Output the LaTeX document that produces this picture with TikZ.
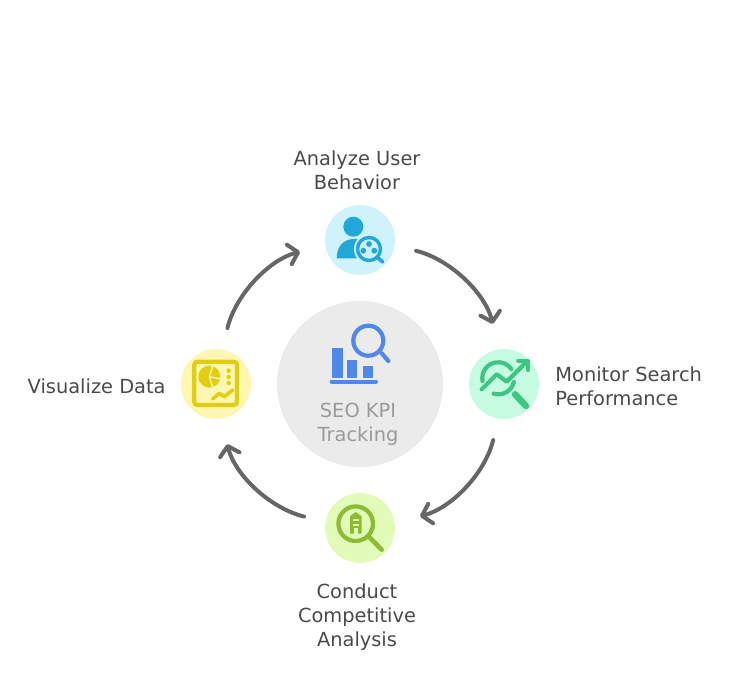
\documentclass[tikz,border=0pt]{standalone}
\usepackage{fontspec}
\setmainfont{DejaVu Sans}
\usetikzlibrary{positioning,arrows.meta}
\definecolor{arrowgray}{HTML}{666666}
\definecolor{labelgray}{HTML}{4A4A4A}
\definecolor{hubgray}{HTML}{EBEBEB}
\definecolor{hubtext}{HTML}{9A9A9A}
\definecolor{hubicon}{HTML}{4F88E8}
\definecolor{userbg}{HTML}{D0F2FD}
\definecolor{usericon}{HTML}{1FA8D8}
\definecolor{searchbg}{HTML}{C6FCE2}
\definecolor{searchicon}{HTML}{3CC583}
\definecolor{rivalbg}{HTML}{E2FBB8}
\definecolor{rivalicon}{HTML}{8DBB32}
\definecolor{databg}{HTML}{FFF6B3}
\definecolor{dataicon}{HTML}{E1CE10}
\tikzset{
  stepdot/.style={circle,minimum size=70pt,inner sep=0pt},
  steplabel/.style={text=labelgray,align=center,inner sep=0pt,font=\fontsize{19.4}{24}\selectfont},
  cyclearrow/.style={draw=arrowgray,line width=4pt,line cap=round,shorten <=22pt,shorten >=26pt,
    -{Straight Barb[length=9pt,width=20pt,round]}},
}
\begin{document}
\begin{tikzpicture}[x=1pt,y=1pt]
  \useasboundingbox (0,0) rectangle (744,696);
  % circles
  \node[circle,minimum size=166pt,inner sep=0pt,fill=hubgray] (hub) at (360,312) {};
  \node[stepdot,fill=userbg] (analyze) at (360,456) {};
  \node[stepdot,fill=searchbg] (monitor) at (504,312) {};
  \node[stepdot,fill=rivalbg] (conduct) at (360,168) {};
  \node[stepdot,fill=databg] (visualize) at (216,312) {};
  % labels
  \node[steplabel,above=15pt of analyze,xshift=-3pt] (analyzetext) {Analyze User\\Behavior};
  \node[steplabel,right=16pt of monitor,align=left,yshift=-2pt] (monitortext) {Monitor Search\\Performance};
  \node[steplabel,below=20pt of conduct,xshift=-3pt] (conducttext) {Conduct\\Competitive\\Analysis};
  \node[steplabel,left=15pt of visualize,yshift=-2pt] (visualizetext) {Visualize Data};
  \node[steplabel,text=hubtext] (hubtext) at (358,272) {SEO KPI\\Tracking};
  % arrows
  \draw[cyclearrow] (analyze.-9) to[out=-14,in=104] (monitor.98);
  \draw[cyclearrow] (monitor.-99) to[out=-104,in=14] (conduct.9);
  \draw[cyclearrow] (conduct.170) to[out=166,in=-76] (visualize.-82);
  \draw[cyclearrow] (visualize.80) to[out=76,in=194] (analyze.189);
  % hub icon
  \begin{scope}[shift={(hub.center)}]
    \draw[hubicon,line width=4.2pt] (8.3,43.3) circle (15);
    \draw[hubicon,line width=4.2pt,line cap=round] (21.7,30.7) -- (28.3,23);
    \fill[hubicon] (-27.7,36.3) rectangle (-17.3,6.3);
    \fill[hubicon] (-12.7,24) rectangle (-2.7,6.3);
    \fill[hubicon] (2.7,18.3) rectangle (12.7,6.3);
    \draw[hubicon,line width=4pt,line cap=round] (-28.3,2.3) -- (16,2.3);
  \end{scope}
  % user icon
  \begin{scope}[shift={(analyze.center)}]
    \fill[usericon] (-6.7,13.3) circle (10);
    \fill[usericon] (-23.3,-18.3) .. controls (-23.3,-6) and (-16,1) .. (-6,1) -- (6,1) -- (6,-18.3) -- cycle;
    \fill[userbg] (9,-9) circle (15);
    \draw[usericon,line width=3.4pt] (9,-9) circle (11.5);
    \foreach \dotx/\doty in {9/-4,3.3/-10.7,14.3/-10.7}
      \fill[usericon] (\dotx,\doty) circle (2.9);
    \draw[usericon,line width=3.6pt,line cap=round] (17.3,-17.3) -- (22.7,-22);
  \end{scope}
  % search icon
  \begin{scope}[shift={(monitor.center)},searchicon]
    \draw[line width=4.2pt,line cap=round] (-21.5,3) arc[start angle=190,end angle=35,radius=16];
    \draw[line width=4.2pt,line cap=round] (9.9,2) arc[start angle=-13,end angle=-107,radius=16];
    \draw[line width=4.2pt,line cap=round,line join=round] (-22.3,-5.3) -- (-7.3,9.7) -- (2.7,2.3) -- (22.7,22.3);
    \draw[line width=4.2pt,line cap=round,line join=round] (14.3,23.3) -- (23.7,23.3) -- (23.7,14);
    \draw[line width=6.5pt,line cap=round] (11,-10.3) -- (22,-22);
  \end{scope}
  % rival icon
  \begin{scope}[shift={(conduct.center)},rivalicon]
    \draw[line width=4.2pt] (-4.3,4.3) circle (17.3);
    \draw[line width=4.6pt,line cap=round] (10,-10) -- (21.7,-21.7);
    \fill (-4.3,16) -- (-10,11.7) -- (-10,-5.7) -- (1.7,-5.7) -- (1.7,11.7) -- cycle;
    \fill[rivalbg] (-7.2,9.3) rectangle (-1.4,7);
    \fill[rivalbg] (-7.2,3.7) rectangle (-1.4,1.5);
    \fill[rivalbg] (-6.5,-0.5) rectangle (-2.1,-5.7);
  \end{scope}
  % data icon
  \begin{scope}[shift={(visualize.center)},dataicon]
    \draw[line width=4.2pt,rounded corners=3pt] (-21.7,22.3) rectangle (21,-21);
    \fill (-6.7,7.3) circle (11);
    \draw[databg,line width=1.3pt] (-3,18.5) -- (-6.7,7.3) -- (-3,-3.7);
    \draw[databg,line width=1.3pt] (-6.7,7.3) -- (5,5);
    \foreach \doty in {13.3,7,1}
      \fill (12.7,\doty) circle (2.3);
    \draw[line width=3.6pt,line cap=round,line join=round] (-3.3,-15) -- (3.3,-9.3) -- (8.3,-12.7) -- (16.7,-6);
  \end{scope}
\end{tikzpicture}
\end{document}
